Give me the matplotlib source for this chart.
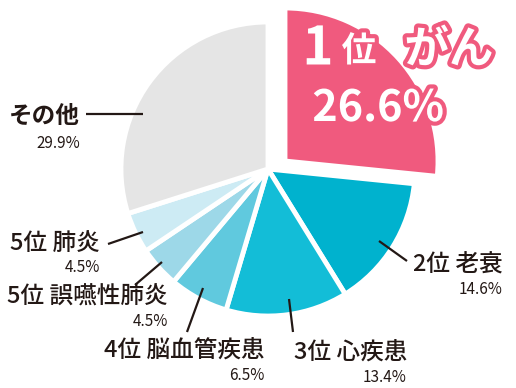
import matplotlib.pyplot as plt
import matplotlib.patheffects as pe

plt.rcParams['font.family'] = ['Noto Sans CJK JP', 'DejaVu Sans']

# Data (clockwise from 12 o'clock)
causes = ['がん', '老衰', '心疾患', '脳血管疾患', '誤嚥性肺炎', '肺炎', 'その他']
ranks = ['1位', '2位', '3位', '4位', '5位', '5位', '']
shares = [26.6, 14.6, 13.4, 6.5, 4.5, 4.5, 29.9]

colors = ['#F05A7E', '#00B2CE', '#13BDD7', '#60C9DE', '#9DD8E8', '#CDEBF4', '#E5E5E5']
pink = colors[0]
dark = '#231815'

fig = plt.figure(figsize=(5.16, 3.88), dpi=100)
ax = fig.add_axes([0, 0, 1, 1])

# pixel coordinates, y pointing down -> start at -90 and go "counterclock" in data space
wedges, _ = ax.pie(shares, colors=colors, startangle=-90, counterclock=True,
                   center=(268, 169), radius=147, frame=True,
                   explode=[0, 0.02, 0.02, 0.02, 0.02, 0.02, 0.03],
                   wedgeprops=dict(edgecolor='white', linewidth=3.5))
# the top slice is pulled out and drawn larger
wedges[0].set_center((285, 161))
wedges[0].set_radius(153)

ax.set_xlim(0, 516)
ax.set_ylim(388, 0)
ax.set_aspect('auto')
ax.axis('off')

# highlighted label for rank 1
stroke = [pe.withStroke(linewidth=6, foreground=pink)]
ax.text(318, 49, '1', color='white', fontsize=38, fontweight='bold',
        ha='center', va='center', path_effects=stroke)
ax.text(359, 51, '位', color='white', fontsize=25, fontweight='bold',
        ha='center', va='center', path_effects=stroke)
ax.text(449, 50, causes[0], color='white', fontsize=32, fontweight='bold',
        ha='center', va='center', path_effects=stroke)
ax.text(378, 108, f'{shares[0]}%', color='white', fontsize=31, fontweight='bold',
        ha='center', va='center', path_effects=stroke)

# other labels: (right edge x, label y, pct y, leader line)
label_pos = {
    '老衰': (503, 265, 289, ((407, 261), (379, 241))),
    '心疾患': (407, 352, 377, ((293, 332), (289, 299))),
    '脳血管疾患': (265, 350, 375, ((187, 332), (203, 288))),
    '誤嚥性肺炎': (168, 297, 322, ((135, 285), (162, 262))),
    '肺炎': (100, 243, 268, ((108, 244), (143, 232))),
    'その他': (80, 116, 143, ((86, 114), (143, 114))),
}

for cause, rank, share in zip(causes[1:], ranks[1:], shares[1:]):
    xr, ly, py, (p0, p1) = label_pos[cause]
    name = f'{rank} {cause}' if rank else cause
    weight = 'bold' if not rank else 'medium'
    ax.text(xr, ly, name, color=dark, fontsize=17, fontweight=weight,
            ha='right', va='center')
    ax.text(xr, py, f'{share}%', color=dark, fontsize=11,
            ha='right', va='center')
    ax.plot([p0[0], p1[0]], [p0[1], p1[1]], color=dark, lw=1.6,
            solid_capstyle='butt')

fig.savefig('out.png', dpi=100)
